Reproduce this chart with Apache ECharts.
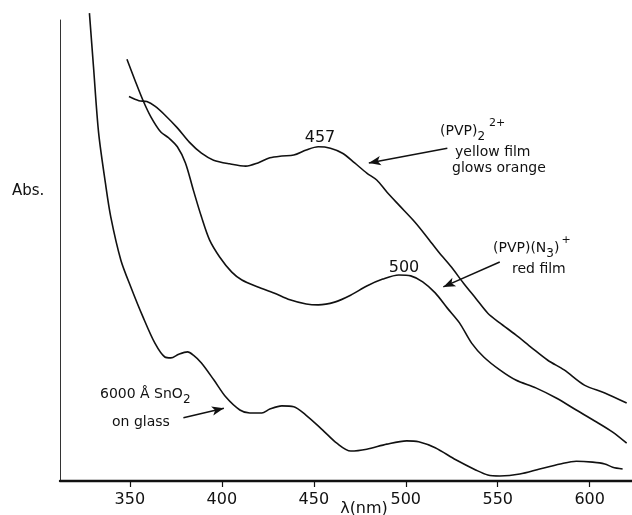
<!DOCTYPE html>
<html>
<head>
<meta charset="utf-8">
<script src="https://cdn.jsdelivr.net/npm/echarts@6/dist/echarts.min.js"></script>
<style>
  html, body { margin: 0; padding: 0; background: #fff; }
  #chart { width: 632px; height: 515px; }
</style>
</head>
<body>
<div id="chart"></div>
<script>
// x ticks shown on the wavelength axis
var tickValues = [350, 400, 450, 500, 550, 600];

// 6000 Å SnO2 on glass
var glassNm = [328, 330.2, 333, 336.7, 339.6, 345.1, 350.5, 357.1, 363.6, 369, 372.3, 376.6, 381.3, 384.5, 388.9, 395.7, 402.2, 409.8, 415.2, 421.7, 426.1, 432.6, 439.1, 445.7, 454.7, 462.5, 470.1, 478.8, 489.7, 500.5, 507, 516, 527.2, 538, 544.6, 551.1, 562, 572.8, 584, 592.7, 601.6, 608.2, 612.5, 617.9];
var glassAbs = [101.5, 89.9, 75.5, 64.6, 57.3, 47.9, 42.1, 35.6, 29.9, 26.9, 26.7, 27.5, 28.0, 27.3, 25.6, 21.9, 18.2, 15.4, 14.75, 14.75, 15.6, 16.3, 16.1, 14.3, 11.1, 8.2, 6.5, 6.9, 8.0, 8.7, 8.5, 7.2, 4.6, 2.4, 1.3, 1.1, 1.5, 2.6, 3.7, 4.3, 4.1, 3.7, 3.0, 2.6];

// (PVP)(N3)+ red film
var redNm = [348.4, 352.7, 357.1, 361.4, 366.8, 371.2, 375.8, 380.2, 384.5, 388.9, 393.3, 398.8, 405.4, 410.9, 419.6, 428.3, 437, 445.9, 452.4, 461.3, 470, 478.8, 487.5, 496.2, 502.7, 509.2, 516, 522.6, 529.2, 535.8, 542.4, 551.1, 559.8, 570.7, 581.8, 592.7, 603.7, 612.5, 620.1];
var redAbs = [91.5, 87.0, 82.6, 79.0, 75.7, 74.4, 72.5, 69.0, 63.1, 57.3, 52.3, 48.6, 45.3, 43.6, 42.1, 40.8, 39.3, 38.4, 38.2, 38.8, 40.3, 42.3, 43.8, 44.7, 44.5, 43.2, 40.8, 37.5, 34.3, 29.9, 26.9, 24.1, 21.9, 20.2, 18.0, 15.4, 12.8, 10.6, 8.2];

// (PVP)2 2+ yellow film
var yellowNm = [349.5, 354.9, 359.2, 363.6, 369, 375.8, 382.3, 388.9, 395.5, 404.2, 413, 419.6, 426.1, 432.6, 439.1, 445.9, 452.4, 459, 465.6, 472.2, 478.8, 484.2, 489.7, 496.2, 504.9, 511.6, 518.2, 524.8, 531.4, 537.9, 544.6, 551.1, 559.8, 568.5, 577.2, 586.1, 597.1, 608.2, 620.1];
var yellowAbs = [83.4, 82.5, 82.3, 81.3, 79.4, 76.6, 73.5, 71.1, 69.6, 68.8, 68.3, 69.0, 70.1, 70.5, 70.7, 71.8, 72.5, 72.2, 71.1, 69.0, 66.8, 65.3, 62.7, 59.9, 56.2, 52.9, 49.5, 46.4, 42.9, 39.7, 36.4, 34.3, 31.7, 28.9, 26.2, 24.1, 20.8, 19.1, 16.9];

// arrows: [fromNm, fromAbs, toNm, toAbs]
var arrows = [
  [522.6, 72.2, 479.9, 69.0],
  [551.1, 47.5, 520.4, 42.1],
  [379.1, 13.7, 401.1, 15.8]
];

function pairs(xs, ys) {
  return xs.map(function (x, i) { return [x, ys[i]]; });
}

var FAMILY = '"DejaVu Sans", sans-serif';
var INK = '#111';

// rich text styles for sub/superscripts
var richStyles = {
  n: { fontSize: 14, fontFamily: FAMILY, color: INK, verticalAlign: 'middle' },
  sub: { fontSize: 12, fontFamily: FAMILY, color: INK, verticalAlign: 'middle', padding: [12, 0, 0, 0] },
  sup: { fontSize: 11, fontFamily: FAMILY, color: INK, verticalAlign: 'middle', padding: [0, 0, 16, 4] },
  sup2: { fontSize: 11, fontFamily: FAMILY, color: INK, verticalAlign: 'middle', padding: [0, 0, 16, 2] }
};

function txt(text, x, y, size, align) {
  return {
    type: 'text', x: x, y: y, silent: true,
    style: {
      text: text, fill: INK, align: align || 'left', verticalAlign: 'middle',
      fontSize: size || 14, fontFamily: FAMILY, rich: richStyles
    }
  };
}

var myChart = echarts.init(document.getElementById('chart'));

var lineBase = {
  type: 'line',
  showSymbol: false,
  smooth: 0.3,
  clip: false,
  lineStyle: { color: INK, width: 1.6 },
  silent: true
};

var option = {
  backgroundColor: '#fff',
  animation: false,
  grid: { left: 60, right: 0, top: 20, bottom: 34 },
  xAxis: {
    type: 'value',
    min: 312,
    max: 623,
    axisLine: { lineStyle: { color: INK, width: 2.4 } },
    axisTick: { show: true, inside: false, length: 6, customValues: tickValues, lineStyle: { color: INK, width: 1.2 } },
    axisLabel: { customValues: tickValues, color: INK, fontSize: 16, fontFamily: 'DejaVu Sans', margin: 11 },
    splitLine: { show: false }
  },
  yAxis: {
    type: 'value',
    min: 0,
    max: 100,
    axisLine: { show: true, lineStyle: { color: '#333', width: 1 } },
    axisTick: { show: false },
    axisLabel: { show: false },
    splitLine: { show: false }
  },
  series: [
    Object.assign({}, lineBase, { name: 'SnO2', data: pairs(glassNm, glassAbs) }),
    Object.assign({}, lineBase, { name: 'red', data: pairs(redNm, redAbs) }),
    Object.assign({}, lineBase, {
      name: 'yellow',
      data: pairs(yellowNm, yellowAbs),
      markLine: {
        silent: true,
        symbol: ['none', 'arrow'],
        symbolSize: [7, 12],
        label: { show: false },
        lineStyle: { color: INK, width: 1.5, type: 'solid' },
        data: arrows.map(function (a) {
          return [{ coord: [a[0], a[1]] }, { coord: [a[2], a[3]] }];
        })
      }
    })
  ],
  graphic: [
    txt('Abs.', 12, 191, 15),
    txt('457', 320, 138, 16, 'center'),
    txt('500', 404, 268, 16, 'center'),
    txt('{n|(PVP)}{sub|2}{sup|2+}', 440, 131),
    txt('yellow film', 455, 152),
    txt('glows orange', 452, 168),
    txt('{n|(PVP)(N}{sub|3}{n|)}{sup2|+}', 493, 248),
    txt('red film', 512, 269),
    txt('{n|6000 \u00c5 SnO}{sub|2}', 100, 394),
    txt('on glass', 112, 422),
    txt('\u03bb(nm)', 364, 509, 16, 'center')
  ]
};

myChart.setOption(option);
</script>
</body>
</html>
